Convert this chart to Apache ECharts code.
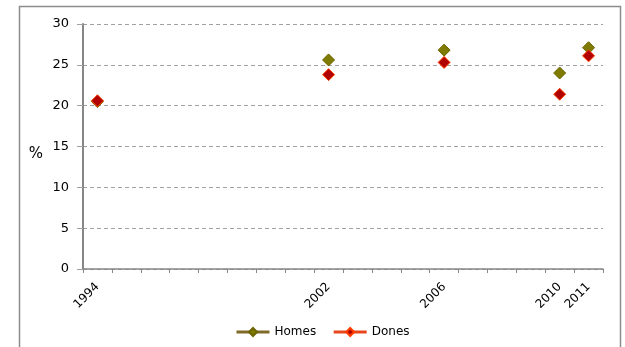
<!DOCTYPE html>
<html><head><meta charset="utf-8">
<script src="https://cdn.jsdelivr.net/npm/echarts@6/dist/echarts.min.js"></script>
<style>html,body{margin:0;padding:0;background:#fff}#c{width:625px;height:347px}</style>
</head><body><div id="c"></div>
<script>
var years = ['1994','1995','1996','1997','1998','1999','2000','2001','2002','2003','2004','2005','2006','2007','2008','2009','2010','2011'];
var shownLabels = ['1994','2002','2006','2010','2011'];
var homes = [20.5,null,null,null,null,null,null,null,25.6,null,null,null,26.8,null,null,null,24.0,27.1];
var dones = [20.6,null,null,null,null,null,null,null,23.8,null,null,null,25.3,null,null,null,21.4,26.1];
var yTicks = [0,5,10,15,20,25,30];

var font = 'DejaVu Sans';
var chart = echarts.init(document.getElementById('c'), null, {renderer:'canvas'});
chart.setOption({
  animation:false,
  graphic:[{type:'rect', shape:{x:19.5,y:6.5,width:601,height:400}, style:{fill:'none',stroke:'#8c8c8c',lineWidth:1.5}, silent:true}],
  grid:{left:83,right:22,top:24,bottom:78},
  legend:{
    left:230, top:321, itemWidth:33, itemHeight:10, itemGap:16,
    textStyle:{fontFamily:font,fontSize:12,color:'#000'},
    data:[
      {name:'Homes', lineStyle:{opacity:1,width:3,color:'#7f6a27'}, itemStyle:{color:'#7f7a00',borderColor:'#6b6400'}},
      {name:'Dones', lineStyle:{opacity:1,width:3,color:'#e8461f'}, itemStyle:{color:'#b00000',borderColor:'#ff4000'}}
    ]
  },
  xAxis:{
    type:'category', data:years, boundaryGap:true,
    axisLine:{lineStyle:{color:'#868686',width:1.5}},
    axisTick:{show:true,interval:0,length:4,lineStyle:{color:'#868686'}},
    axisLabel:{
      rotate:45, fontFamily:font, fontSize:12, color:'#000', margin:16,
      interval:function(i,v){return shownLabels.indexOf(v)>=0;}
    },
    splitLine:{show:false}
  },
  yAxis:{
    type:'value', min:yTicks[0], max:yTicks[yTicks.length-1], interval:5,
    name:'%', nameLocation:'middle', nameRotate:0, nameGap:40,
    nameTextStyle:{fontFamily:font,fontSize:15,color:'#000',verticalAlign:'top'},
    axisLine:{show:true,lineStyle:{color:'#868686',width:2}},
    axisTick:{show:true,length:6,lineStyle:{color:'#a0a0a0'}},
    axisLabel:{fontFamily:font,fontSize:13,color:'#000',margin:14},
    splitLine:{show:true,lineStyle:{color:'#a0a0a0',type:[4,3],width:1}}
  },
  series:[
    {name:'Homes', type:'line', data:homes, symbol:'diamond', symbolSize:12, connectNulls:false,
     lineStyle:{opacity:0,color:'#7f6a27'}, itemStyle:{color:'#7f7a00',borderColor:'#6b6400',borderWidth:1}, z:2},
    {name:'Dones', type:'line', data:dones, symbol:'diamond', symbolSize:12, connectNulls:false,
     lineStyle:{opacity:0,color:'#e8461f'}, itemStyle:{color:'#b00000',borderColor:'#ff4000',borderWidth:1}, z:3}
  ]
});
</script></body></html>
